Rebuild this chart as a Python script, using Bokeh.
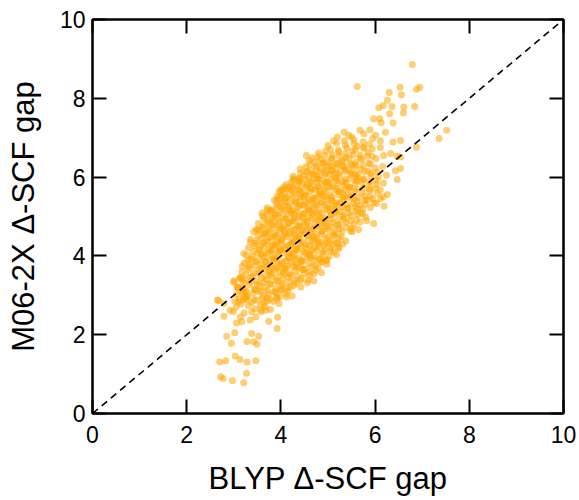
from bokeh.plotting import figure
from bokeh.models import LinearAxis, FixedTicker, Range1d, ColumnDataSource, CustomJSTickFormatter
from bokeh.embed import file_html
from bokeh.resources import INLINE

# ---------------- data ----------------
# dense core, first layer (rows of roughly equal M06-2X gap)
core1_blyp = [
    2.92, 3.05, 3.22, 3.31, 3.45, 3.58, 3.66, 3.78,
    3.02, 3.15, 3.26, 3.38, 3.49, 3.57, 3.71, 3.84, 3.96,
    3.05, 3.18, 3.29, 3.41, 3.52, 3.63, 3.74, 3.86, 3.97, 4.10, 4.24,
    3.08, 3.20, 3.33, 3.44, 3.55, 3.66, 3.78, 3.89, 4.01, 4.13, 4.27, 4.42,
    3.12, 3.25, 3.37, 3.48, 3.59, 3.70, 3.81, 3.93, 4.04, 4.16, 4.29, 4.43, 4.58, 4.70,
    3.17, 3.30, 3.42, 3.53, 3.64, 3.75, 3.86, 3.97, 4.08, 4.19, 4.31, 4.45, 4.60, 4.74, 4.86,
    3.22, 3.34, 3.46, 3.57, 3.68, 3.79, 3.90, 4.01, 4.12, 4.23, 4.35, 4.47, 4.60, 4.73, 4.86, 4.98,
    3.27, 3.39, 3.50, 3.61, 3.72, 3.83, 3.94, 4.05, 4.16, 4.27, 4.38, 4.50, 4.62, 4.75, 4.88, 5.02, 5.18,
    3.31, 3.43, 3.54, 3.65, 3.76, 3.87, 3.98, 4.09, 4.20, 4.31, 4.42, 4.54, 4.66, 4.79, 4.92, 5.06, 5.22, 5.31,
    3.36, 3.48, 3.59, 3.70, 3.81, 3.92, 4.03, 4.14, 4.25, 4.36, 4.47, 4.58, 4.70, 4.82, 4.95, 5.08, 5.22, 5.38,
    3.42, 3.54, 3.65, 3.76, 3.87, 3.98, 4.09, 4.20, 4.31, 4.42, 4.53, 4.64, 4.76, 4.88, 5.01, 5.15, 5.30, 5.48,
    3.52, 3.63, 3.74, 3.85, 3.96, 4.07, 4.18, 4.29, 4.40, 4.51, 4.62, 4.73, 4.85, 4.97, 5.10, 5.24, 5.39, 5.55, 5.68,
    3.61, 3.72, 3.83, 3.94, 4.05, 4.16, 4.27, 4.38, 4.49, 4.60, 4.71, 4.82, 4.94, 5.06, 5.19, 5.33, 5.48, 5.63, 5.80,
    3.71, 3.82, 3.93, 4.04, 4.15, 4.26, 4.37, 4.48, 4.59, 4.70, 4.81, 4.92, 5.04, 5.16, 5.29, 5.43, 5.58, 5.74, 5.90,
    3.86, 3.97, 4.08, 4.19, 4.30, 4.41, 4.52, 4.63, 4.74, 4.85, 4.96, 5.08, 5.20, 5.33, 5.47, 5.62, 5.78, 5.95,
    3.96, 4.07, 4.18, 4.29, 4.40, 4.51, 4.62, 4.73, 4.84, 4.95, 5.06, 5.18, 5.30, 5.43, 5.57, 5.72, 5.88, 6.05,
    4.11, 4.22, 4.33, 4.44, 4.55, 4.66, 4.77, 4.88, 4.99, 5.10, 5.21, 5.33, 5.45, 5.58, 5.72, 5.87, 6.03, 6.18,
    4.26, 4.37, 4.48, 4.59, 4.70, 4.81, 4.92, 5.03, 5.14, 5.25, 5.37, 5.49, 5.62, 5.76, 5.91, 6.07, 6.24,
    4.41, 4.53, 4.64, 4.75, 4.86, 4.97, 5.08, 5.19, 5.31, 5.43, 5.56, 5.70, 5.85, 6.00, 6.16,
    4.60, 4.72, 4.84, 4.96, 5.08, 5.20, 5.32, 5.45, 5.58, 5.72, 5.87, 6.02,
    4.80, 4.95, 5.09, 5.23, 5.37, 5.52, 5.68, 5.85,
    5.00, 5.18, 5.62, 5.88,
    5.50, 5.95,
]
core1_m06 = [
    2.62, 2.70, 2.55, 2.74, 2.66, 2.58, 2.71, 2.64,
    2.85, 2.78, 2.90, 2.82, 2.88, 2.76, 2.93, 2.84, 2.79,
    3.02, 3.08, 2.97, 3.05, 3.10, 2.99, 3.04, 3.09, 2.96, 3.03, 2.98,
    3.22, 3.18, 3.26, 3.15, 3.24, 3.20, 3.28, 3.17, 3.23, 3.19, 3.25, 3.21,
    3.42, 3.38, 3.45, 3.36, 3.44, 3.40, 3.47, 3.35, 3.41, 3.46, 3.37, 3.43, 3.39, 3.36,
    3.60, 3.66, 3.57, 3.63, 3.68, 3.58, 3.64, 3.61, 3.67, 3.56, 3.62, 3.65, 3.59, 3.63, 3.57,
    3.82, 3.76, 3.85, 3.79, 3.84, 3.77, 3.86, 3.80, 3.74, 3.83, 3.78, 3.87, 3.81, 3.76, 3.84, 3.79,
    4.02, 3.97, 4.05, 3.99, 4.06, 3.96, 4.03, 4.08, 3.98, 4.04, 3.95, 4.07, 4.01, 3.97, 4.05, 3.99, 4.03,
    4.21, 4.26, 4.17, 4.24, 4.19, 4.27, 4.16, 4.22, 4.28, 4.18, 4.25, 4.20, 4.15, 4.23, 4.27, 4.19, 4.22, 4.30,
    4.42, 4.37, 4.45, 4.39, 4.46, 4.36, 4.43, 4.48, 4.38, 4.44, 4.35, 4.47, 4.41, 4.36, 4.44, 4.40, 4.45, 4.38,
    4.61, 4.66, 4.57, 4.64, 4.59, 4.67, 4.56, 4.62, 4.68, 4.58, 4.65, 4.60, 4.55, 4.63, 4.67, 4.59, 4.62, 4.64,
    4.82, 4.77, 4.85, 4.79, 4.86, 4.76, 4.83, 4.88, 4.78, 4.84, 4.75, 4.87, 4.81, 4.76, 4.84, 4.80, 4.85, 4.79, 4.86,
    5.01, 5.06, 4.97, 5.04, 4.99, 5.07, 4.96, 5.02, 5.08, 4.98, 5.05, 5.00, 4.95, 5.03, 5.07, 4.99, 5.02, 5.05, 4.98,
    5.22, 5.17, 5.25, 5.19, 5.26, 5.16, 5.23, 5.28, 5.18, 5.24, 5.15, 5.27, 5.21, 5.16, 5.24, 5.20, 5.25, 5.19, 5.23,
    5.41, 5.46, 5.37, 5.44, 5.39, 5.47, 5.36, 5.42, 5.48, 5.38, 5.45, 5.40, 5.35, 5.43, 5.47, 5.39, 5.42, 5.45,
    5.62, 5.57, 5.65, 5.59, 5.66, 5.56, 5.63, 5.68, 5.58, 5.64, 5.55, 5.67, 5.61, 5.56, 5.64, 5.60, 5.65, 5.59,
    5.81, 5.86, 5.77, 5.84, 5.79, 5.87, 5.76, 5.82, 5.88, 5.78, 5.85, 5.80, 5.75, 5.83, 5.87, 5.79, 5.82, 5.85,
    6.02, 5.97, 6.05, 5.99, 6.06, 5.96, 6.03, 6.08, 5.98, 6.04, 5.95, 6.07, 6.01, 5.96, 6.04, 6.00, 6.05,
    6.21, 6.26, 6.17, 6.24, 6.19, 6.27, 6.16, 6.22, 6.28, 6.18, 6.25, 6.20, 6.15, 6.23, 6.27,
    6.42, 6.37, 6.45, 6.39, 6.46, 6.36, 6.43, 6.48, 6.38, 6.44, 6.35, 6.47,
    6.61, 6.66, 6.57, 6.64, 6.59, 6.67, 6.56, 6.62,
    6.80, 6.86, 6.78, 6.84,
    7.02, 6.98,
]

# dense core, second (interleaved) layer
core2_blyp = [
    3.12, 3.27, 3.43, 3.60, 3.77, 3.91,
    3.14, 3.28, 3.45, 3.58, 3.72, 3.88, 4.02, 4.15,
    3.21, 3.36, 3.50, 3.63, 3.77, 3.90, 4.04, 4.18, 4.33,
    3.26, 3.40, 3.53, 3.67, 3.80, 3.94, 4.07, 4.21, 4.35, 4.50, 4.62,
    3.31, 3.44, 3.58, 3.71, 3.84, 3.98, 4.11, 4.25, 4.38, 4.52, 4.66, 4.79,
    3.36, 3.49, 3.62, 3.76, 3.89, 4.03, 4.16, 4.30, 4.43, 4.57, 4.71, 4.85, 4.96,
    3.41, 3.54, 3.67, 3.81, 3.94, 4.08, 4.21, 4.35, 4.48, 4.62, 4.76, 4.90, 5.05, 5.13,
    3.46, 3.59, 3.72, 3.86, 3.99, 4.13, 4.26, 4.40, 4.53, 4.67, 4.81, 4.95, 5.09, 5.20,
    3.51, 3.64, 3.77, 3.91, 4.04, 4.18, 4.31, 4.45, 4.58, 4.72, 4.86, 5.00, 5.14, 5.28,
    3.61, 3.74, 3.87, 4.01, 4.14, 4.28, 4.41, 4.55, 4.68, 4.82, 4.96, 5.10, 5.24, 5.39, 5.50,
    3.71, 3.84, 3.97, 4.11, 4.24, 4.38, 4.51, 4.65, 4.78, 4.92, 5.06, 5.20, 5.34, 5.48, 5.60,
    3.81, 3.94, 4.07, 4.21, 4.34, 4.48, 4.61, 4.75, 4.88, 5.02, 5.16, 5.30, 5.44, 5.58, 5.70,
    3.91, 4.04, 4.17, 4.31, 4.44, 4.58, 4.71, 4.85, 4.98, 5.12, 5.26, 5.40, 5.54, 5.68, 5.80,
    4.01, 4.14, 4.27, 4.41, 4.54, 4.68, 4.81, 4.95, 5.08, 5.22, 5.36, 5.50, 5.64, 5.78, 5.90,
    4.12, 4.25, 4.38, 4.52, 4.65, 4.79, 4.92, 5.06, 5.19, 5.33, 5.47, 5.61, 5.75, 5.89, 6.00,
    4.26, 4.39, 4.52, 4.66, 4.79, 4.93, 5.06, 5.20, 5.33, 5.47, 5.61, 5.75, 5.89, 6.02,
    4.42, 4.55, 4.68, 4.82, 4.95, 5.09, 5.22, 5.36, 5.49, 5.63, 5.77, 5.91, 6.04,
    4.62, 4.76, 4.90, 5.04, 5.18, 5.32, 5.46, 5.60, 5.75, 5.90,
    4.78, 4.93, 5.08, 5.23, 5.38, 5.53, 5.68, 5.83,
    5.05, 5.22, 5.40, 5.58, 5.76,
    5.35, 5.55, 5.75,
]
core2_m06 = [
    2.91, 2.95, 2.88, 2.93, 2.90, 2.96,
    3.12, 3.08, 3.15, 3.10, 3.13, 3.07, 3.14, 3.11,
    3.31, 3.35, 3.28, 3.33, 3.30, 3.36, 3.29, 3.34, 3.31,
    3.52, 3.48, 3.55, 3.50, 3.53, 3.47, 3.54, 3.51, 3.49, 3.55, 3.50,
    3.71, 3.75, 3.68, 3.73, 3.70, 3.76, 3.69, 3.74, 3.71, 3.67, 3.74, 3.70,
    3.92, 3.88, 3.95, 3.90, 3.93, 3.87, 3.94, 3.91, 3.89, 3.95, 3.90, 3.93, 3.88,
    4.11, 4.15, 4.08, 4.13, 4.10, 4.16, 4.09, 4.14, 4.11, 4.07, 4.14, 4.10, 4.13, 4.09,
    4.32, 4.28, 4.35, 4.30, 4.33, 4.27, 4.34, 4.31, 4.29, 4.35, 4.30, 4.33, 4.28, 4.32,
    4.51, 4.55, 4.48, 4.53, 4.50, 4.56, 4.49, 4.54, 4.51, 4.47, 4.54, 4.50, 4.53, 4.49,
    4.72, 4.68, 4.75, 4.70, 4.73, 4.67, 4.74, 4.71, 4.69, 4.75, 4.70, 4.73, 4.68, 4.72, 4.70,
    4.91, 4.95, 4.88, 4.93, 4.90, 4.96, 4.89, 4.94, 4.91, 4.87, 4.94, 4.90, 4.93, 4.89, 4.92,
    5.12, 5.08, 5.15, 5.10, 5.13, 5.07, 5.14, 5.11, 5.09, 5.15, 5.10, 5.13, 5.08, 5.12, 5.10,
    5.31, 5.35, 5.28, 5.33, 5.30, 5.36, 5.29, 5.34, 5.31, 5.27, 5.34, 5.30, 5.33, 5.29, 5.32,
    5.52, 5.48, 5.55, 5.50, 5.53, 5.47, 5.54, 5.51, 5.49, 5.55, 5.50, 5.53, 5.48, 5.52, 5.50,
    5.71, 5.75, 5.68, 5.73, 5.70, 5.76, 5.69, 5.74, 5.71, 5.67, 5.74, 5.70, 5.73, 5.69, 5.72,
    5.92, 5.88, 5.95, 5.90, 5.93, 5.87, 5.94, 5.91, 5.89, 5.95, 5.90, 5.93, 5.88, 5.92,
    6.11, 6.15, 6.08, 6.13, 6.10, 6.16, 6.09, 6.14, 6.11, 6.07, 6.14, 6.10, 6.13,
    6.32, 6.28, 6.35, 6.30, 6.33, 6.27, 6.34, 6.31, 6.29, 6.33,
    6.51, 6.55, 6.48, 6.53, 6.50, 6.56, 6.49, 6.53,
    6.71, 6.68, 6.74, 6.70, 6.73,
    6.92, 6.95, 6.90,
]

# dense core, third (irregular) layer over the darkest region
core3_blyp = [
    3.75, 3.92, 4.05, 4.31, 4.48,
    3.68, 3.85, 4.12, 4.26, 4.44, 4.63, 4.82,
    3.58, 3.79, 3.96, 4.18, 4.33, 4.57, 4.71, 4.93,
    3.63, 3.82, 4.01, 4.23, 4.39, 4.61, 4.78, 5.02,
    3.69, 3.89, 4.07, 4.29, 4.46, 4.66, 4.87, 5.11,
    3.78, 3.99, 4.17, 4.36, 4.56, 4.74, 4.96, 5.21,
    3.88, 4.09, 4.28, 4.46, 4.66, 4.85, 5.07, 5.31,
    3.98, 4.19, 4.39, 4.57, 4.77, 4.97, 5.18, 5.42,
    4.09, 4.31, 4.49, 4.69, 4.89, 5.09, 5.31, 5.55,
    4.22, 4.43, 4.62, 4.82, 5.02, 5.23, 5.45,
    4.38, 4.58, 4.77, 4.97, 5.17, 5.38, 5.60,
    4.56, 4.76, 4.95, 5.15, 5.36, 5.57,
    4.87, 5.08, 5.29, 5.51,
]
core3_m06 = [
    3.62, 3.70, 3.58, 3.72, 3.66,
    3.85, 3.93, 3.88, 3.98, 3.84, 3.96, 3.91,
    4.05, 4.12, 4.19, 4.06, 4.17, 4.04, 4.21, 4.16,
    4.33, 4.26, 4.38, 4.31, 4.42, 4.27, 4.39, 4.33,
    4.58, 4.49, 4.61, 4.53, 4.64, 4.51, 4.62, 4.55,
    4.81, 4.72, 4.84, 4.76, 4.86, 4.73, 4.83, 4.78,
    5.04, 4.94, 5.06, 4.99, 5.09, 4.97, 5.06, 5.01,
    5.25, 5.17, 5.29, 5.21, 5.31, 5.19, 5.28, 5.22,
    5.47, 5.39, 5.51, 5.43, 5.53, 5.41, 5.49, 5.45,
    5.69, 5.61, 5.73, 5.65, 5.76, 5.63, 5.71,
    5.91, 5.83, 5.95, 5.87, 5.98, 5.85, 5.93,
    6.13, 6.05, 6.17, 6.09, 6.19, 6.07,
    6.36, 6.28, 6.39, 6.31,
]

# scattered points along the edges of the cloud
edge_blyp = [
    5.97, 5.82, 5.65, 5.51, 5.23, 5.19, 4.98, 4.88, 4.70, 4.56, 4.42, 4.20, 4.12, 3.99, 3.92,
    5.73, 5.62, 6.26, 6.11, 5.97, 5.83, 6.17, 6.03, 6.19, 6.11,
    3.18, 3.30, 3.21, 3.35, 3.48, 3.60, 3.64, 3.78, 3.99, 3.00, 3.14, 3.21, 3.07,
    3.50, 3.71, 3.92, 4.06, 4.27, 4.40, 4.03, 4.17, 3.92, 4.54, 4.66,
    6.47, 6.54, 6.43,
]
edge_m06 = [
    4.82, 4.89, 4.67, 4.61, 4.19, 4.33, 3.91, 3.85, 3.55, 3.32, 3.38, 3.21, 2.96, 3.13, 2.92,
    5.07, 5.20, 5.56, 5.45, 5.34, 5.41, 5.50, 5.33, 5.26, 5.67,
    3.74, 3.89, 4.06, 4.35, 4.67, 5.09, 4.95, 5.16, 5.67, 3.37, 3.45, 2.96, 3.20,
    4.65, 5.16, 5.50, 5.75, 5.96, 5.96, 5.68, 5.75, 5.41, 6.55, 6.49,
    5.94, 6.22, 6.16,
]

# sparse low tail (small gaps)
tail_blyp = [
    2.72, 2.77, 2.97, 3.21, 3.27, 2.70, 2.83, 3.03, 3.13, 3.28, 3.47,
    2.85, 2.95, 3.02, 3.28, 3.38, 3.42, 3.49, 3.53, 3.92, 3.93, 3.74,
    2.79, 2.99, 3.06, 3.14, 3.17, 2.68, 2.79, 2.65,
    3.38, 3.47, 3.35, 3.57, 3.68, 3.64, 3.70, 3.00, 3.16, 3.24, 3.10, 3.21, 3.09,
]
tail_m06 = [
    0.93, 0.89, 0.83, 0.78, 1.02, 1.31, 1.34, 1.46, 1.37, 1.31, 1.34,
    1.96, 1.78, 2.05, 1.83, 2.03, 1.82, 1.76, 1.96, 2.16, 2.44, 2.34,
    2.47, 2.59, 2.30, 2.45, 2.33, 2.86, 2.79, 2.88,
    2.58, 2.45, 2.37, 2.64, 2.62, 2.81, 2.85, 3.33, 3.43, 3.11, 2.83, 2.89, 3.20,
]

# sparse upper-right plume (large gaps)
upper_blyp = [
    5.62, 6.79, 6.53, 6.95, 6.88, 6.30, 6.56, 6.26, 6.17, 6.08, 6.36, 6.61, 6.60, 6.84, 6.31,
    5.97, 6.10, 6.13, 6.38, 7.52, 7.36, 6.88, 6.54, 6.38, 6.22, 5.89, 5.68, 5.76, 6.01,
    5.34, 5.44, 5.20, 5.12, 6.11, 6.11, 5.94, 5.76, 5.55, 5.37, 6.18, 6.33, 6.47, 6.54, 5.94,
]
upper_m06 = [
    8.30, 8.86, 8.28, 8.28, 8.23, 8.15, 8.09, 7.95, 7.82, 7.76, 7.79, 7.78, 7.63, 7.79, 7.61,
    7.48, 7.48, 7.38, 7.37, 7.19, 6.98, 6.76, 6.93, 6.89, 7.14, 7.20, 7.19, 7.10, 7.06,
    7.14, 7.06, 7.02, 6.92, 6.92, 6.75, 6.72, 6.76, 6.85, 6.81, 6.55, 6.60, 6.53, 6.51, 6.53,
]

ticks = [0, 2, 4, 6, 8, 10]
x_label = "BLYP Δ-SCF gap"
y_label = "M06-2X Δ-SCF gap"

groups = [(core1_blyp, core1_m06), (core2_blyp, core2_m06), (core3_blyp, core3_m06),
          (edge_blyp, edge_m06), (tail_blyp, tail_m06), (upper_blyp, upper_m06)]
for a, b in groups:
    assert len(a) == len(b), (len(a), len(b))

blyp = [v for a, _ in groups for v in a]
m06 = [v for _, b in groups for v in b]

# ---------------- figure ----------------
FONT = "Liberation Sans"
p = figure(width=579, height=500, output_backend="svg", toolbar_location=None,
           x_range=Range1d(0, 10), y_range=Range1d(0, 10),
           x_axis_location=None, y_axis_location=None,
           min_border_left=92, min_border_right=16, min_border_top=19, min_border_bottom=87)
p.grid.visible = False
p.background_fill_color = "white"
p.border_fill_color = "white"
p.outline_line_color = "black"
p.outline_line_width = 2

src = ColumnDataSource(dict(x=blyp, y=m06))
p.scatter("x", "y", source=src, size=7, fill_color="#FFA500", fill_alpha=0.55, line_color=None)

# diagonal y = x
p.line(x=[ticks[0], ticks[-1]], y=[ticks[0], ticks[-1]], line_color="black",
       line_width=1.6, line_dash="7 5")

bottom = LinearAxis(axis_label=x_label)
left = LinearAxis(axis_label=y_label)
top = LinearAxis()
right = LinearAxis()
p.add_layout(bottom, "below")
p.add_layout(left, "left")
p.add_layout(top, "above")
p.add_layout(right, "right")

for ax in [bottom, left, top, right]:
    ax.ticker = FixedTicker(ticks=ticks)
    ax.major_tick_in = 14
    ax.major_tick_out = 0
    ax.major_tick_line_width = 2
    ax.major_tick_line_color = "black"
    ax.minor_tick_line_color = None
    ax.axis_line_color = "black"
    ax.axis_line_width = 2
    ax.major_label_text_font = FONT
    ax.major_label_text_font_size = "23px"
    ax.major_label_text_color = "black"
    ax.axis_label_text_font = FONT
    ax.axis_label_text_font_size = "31px"
    ax.axis_label_text_font_style = "normal"
    ax.axis_label_text_color = "black"

for ax in [top, right]:
    ax.formatter = CustomJSTickFormatter(code="return ''")
    ax.major_label_standoff = 0

bottom.major_label_standoff = 12
left.major_label_standoff = 7
bottom.axis_label_standoff = 15
left.axis_label_standoff = 16

open("out.html", "w").write(file_html(p, INLINE))
